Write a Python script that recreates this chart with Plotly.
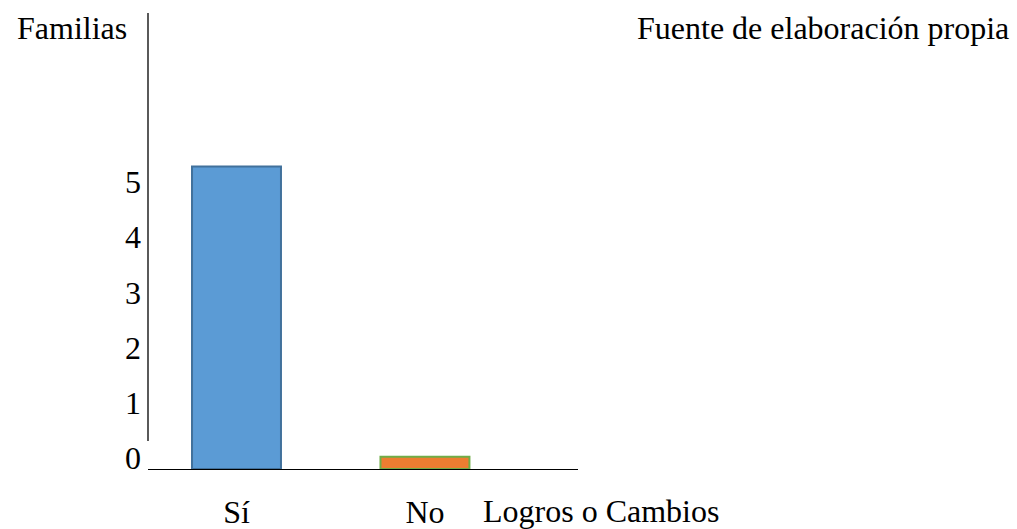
import plotly.graph_objects as go

# Respuestas sobre logros o cambios (número de familias)
categorias = ["Sí", "No"]
familias = [5.48, 0.22]
tick_valores = [0, 1, 2, 3, 4, 5]
tick_textos = ["0", "1", "2", "3", "4", "5"]

relleno = ["#5B9BD5", "#ED7D31"]
borde = ["#41719C", "#70AD47"]

fuente = dict(family="Liberation Serif", size=32, color="#000000")

fig = go.Figure()
fig.add_trace(go.Bar(
    x=categorias,
    y=familias,
    width=0.472,
    marker=dict(color=relleno, line=dict(color=borde, width=2)),
    showlegend=False,
))

fig.update_layout(
    width=1017,
    height=529,
    margin=dict(l=148, r=439, t=13, b=60),
    paper_bgcolor="white",
    plot_bgcolor="white",
    font=fuente,
    xaxis=dict(
        range=[-0.4695, 1.812],
        automargin=False,
        showgrid=False,
        zeroline=False,
        showline=True,
        linecolor="#000000",
        linewidth=1.3,
        ticks="",
        ticklabelstandoff=14,
        tickfont=fuente,
    ),
    yaxis=dict(
        range=[0, 8.26],
        automargin=False,
        showgrid=False,
        zeroline=False,
        showline=False,
        ticks="",
        tickmode="array",
        tickvals=tick_valores,
        ticktext=tick_textos,
        ticklabelshift=-11,
        ticklabelstandoff=6,
        tickfont=fuente,
    ),
    shapes=[
        # eje vertical, que no llega a tocar la línea base
        dict(type="line", xref="paper", yref="paper",
             x0=0.0, x1=0.0, y0=0.0614, y1=1.0,
             line=dict(color="#000000", width=1.3)),
    ],
    annotations=[
        dict(text="Familias", xref="paper", yref="paper",
             x=-0.309, y=1.0, xanchor="left", yanchor="middle", yshift=-15,
             showarrow=False, font=fuente),
        dict(text="Fuente de elaboración propia", xref="paper", yref="paper",
             x=1.0 + (635 - 578) / 430, y=1.0, xanchor="left", yanchor="middle", yshift=-15,
             showarrow=False, font=fuente),
        dict(text="Logros o Cambios", xref="paper", yref="paper",
             x=(481 - 148) / 430, y=-0.0877, xanchor="left", yanchor="middle", yshift=-2,
             showarrow=False, font=fuente),
    ],
)

fig.write_html("out.html")
